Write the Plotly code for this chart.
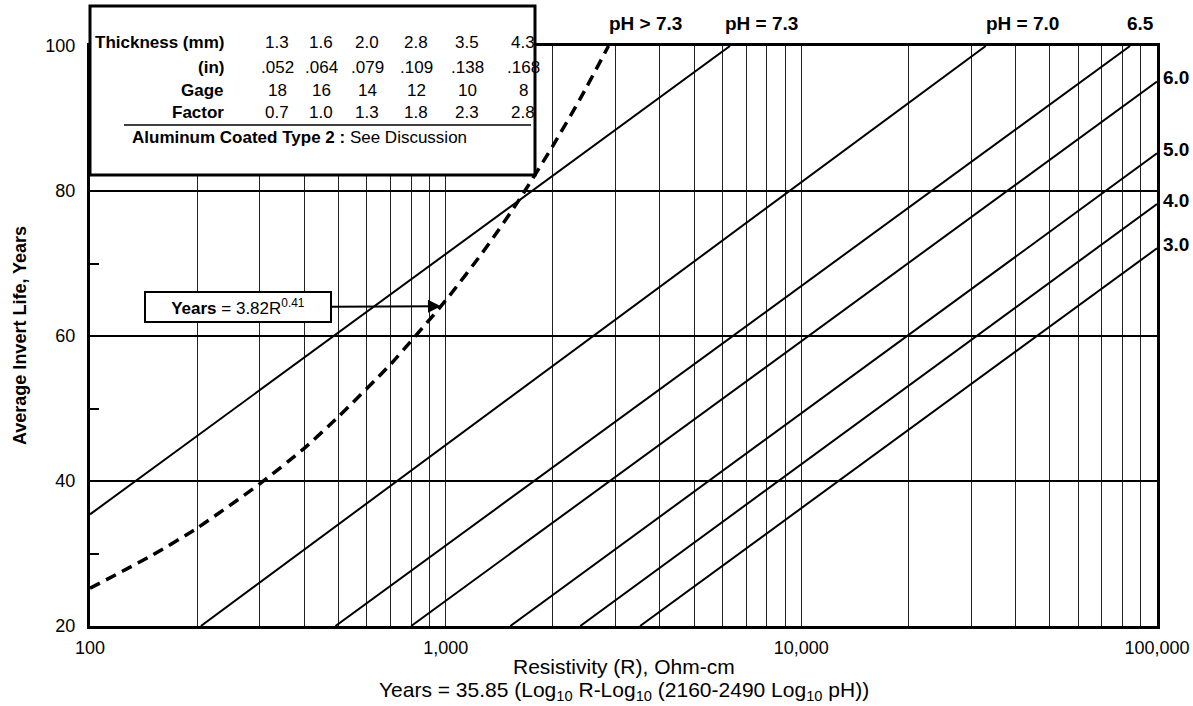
import math
import plotly.graph_objects as go

# ---------------- data ----------------
ph_values = ["7.3", "7.0", "6.5", "6.0", "5.0", "4.0", "3.0"]
line_r_start = [100, 205, 490, 800, 1520, 2390, 3520]
line_y_start = [35.4, 20, 20, 20, 20, 20, 20]
line_r_end = [6300, 33000, 84000, 100000, 100000, 100000, 100000]
line_y_end = [100, 100, 100, 95.1, 85.2, 78.2, 72.1]

# dashed curve (pH > 7.3): Years = 3.82 R^0.41
curve_r = [100, 150, 200, 300, 400, 500, 700, 1000, 1300, 1600, 2000, 2400, 2870]
curve_y = [25.2, 29.8, 33.5, 39.6, 44.5, 48.9, 56.1, 64.9, 72.2, 78.6, 86.2, 92.9, 100.0]

x_tickvals = [100, 1000, 10000, 100000]
x_ticktext = ["100", "1,000", "10,000", "100,000"]
x_minorvals = [m * d for d in (100, 1000, 10000) for m in range(2, 10)]
y_tickvals = [20, 40, 60, 80, 100]

table_labels = ["Thickness (mm)", "(in)", "Gage", "Factor"]
thickness_mm = ["1.3", "1.6", "2.0", "2.8", "3.5", "4.3"]
thickness_in = [".052", ".064", ".079", ".109", ".138", ".168"]
gage = ["18", "16", "14", "12", "10", "8"]
factor = ["0.7", "1.0", "1.3", "1.8", "2.3", "2.8"]

top_labels = ["pH > 7.3", "pH = 7.3", "pH = 7.0", "6.5"]
right_labels = ["6.0", "5.0", "4.0", "3.0"]
right_label_y = line_y_end[3:]

arrow_r, arrow_y = 970, 64.1

# ---------------- layout helpers ----------------
W, H = 1193, 706
L, R, T, B = 90, 36, 46, 80
PW, PH = W - L - R, H - T - B


def px(xp):
    return (xp - L) / PW


def py(yp):
    return (H - B - yp) / PH


FONT = "Liberation Sans, Arial, Helvetica, sans-serif"

fig = go.Figure()

for i, ph in enumerate(ph_values):
    fig.add_trace(go.Scatter(
        x=[line_r_start[i], line_r_end[i]], y=[line_y_start[i], line_y_end[i]],
        mode="lines", line=dict(color="black", width=2), name="pH " + ph,
        showlegend=False, hoverinfo="skip"))

fig.add_trace(go.Scatter(
    x=curve_r, y=curve_y, mode="lines",
    line=dict(color="black", width=3.5, dash="11px,7px", shape="spline", smoothing=0.6),
    showlegend=False, hoverinfo="skip"))

annotations = []

# table
col_x = [277, 321, 367, 416, 467, 523]
row_y = [43, 67, 90, 113]
rows = [thickness_mm, thickness_in, gage, factor]
for r, (lab, vals) in enumerate(zip(table_labels, rows)):
    annotations.append(dict(xref="paper", yref="paper", x=px(226), y=py(row_y[r]),
                            text="<b>%s</b>" % lab, showarrow=False, xanchor="right",
                            yanchor="middle", font=dict(family=FONT, size=17, color="black")))
    for c, v in enumerate(vals):
        annotations.append(dict(xref="paper", yref="paper", x=px(col_x[c]), y=py(row_y[r]),
                                text=v, showarrow=False, xanchor="center", yanchor="middle",
                                font=dict(family=FONT, size=17, color="black")))
annotations.append(dict(xref="paper", yref="paper", x=px(130), y=py(137),
                        text="<b>Aluminum Coated Type 2 :</b> See Discussion", showarrow=False,
                        xanchor="left", yanchor="middle",
                        font=dict(family=FONT, size=17, color="black")))

# top labels
top_x = [645, 761, 1022, 1140]
for t, xx in zip(top_labels, top_x):
    annotations.append(dict(xref="paper", yref="paper", x=px(xx), y=py(23), text="<b>%s</b>" % t,
                            showarrow=False, xanchor="center", yanchor="middle",
                            font=dict(family=FONT, size=19, color="black")))
# right labels
for t, yy in zip(right_labels, right_label_y):
    annotations.append(dict(xref="paper", yref="y", x=px(1161), y=yy, yshift=4, text="<b>%s</b>" % t,
                            showarrow=False, xanchor="left", yanchor="middle",
                            font=dict(family=FONT, size=19, color="black")))

# equation box with arrow
annotations.append(dict(xref="x", yref="y", x=math.log10(arrow_r), y=arrow_y,
                        text="<b>Years</b> = 3.82R<sup>0.41</sup>", showarrow=True,
                        ax=-203, ay=1, arrowhead=2, arrowsize=1.3, arrowwidth=2, arrowcolor="black",
                        bordercolor="black", borderwidth=2, borderpad=1, bgcolor="white",
                        width=182, height=26,
                        font=dict(family=FONT, size=17, color="black")))

# axis titles
annotations.append(dict(xref="paper", yref="paper", x=0.5, y=py(666),
                        text="Resistivity (R), Ohm-cm", showarrow=False, xanchor="center",
                        yanchor="middle", font=dict(family=FONT, size=21, color="black")))
annotations.append(dict(xref="paper", yref="paper", x=0.5, y=py(691),
                        text="Years = 35.85 (Log<sub>10</sub> R-Log<sub>10</sub> (2160-2490 Log<sub>10</sub> pH))",
                        showarrow=False, xanchor="center", yanchor="middle",
                        font=dict(family=FONT, size=21, color="black")))
annotations.append(dict(xref="paper", yref="paper", x=px(20), y=0.5,
                        text="<b>Average Invert Life, Years</b>", showarrow=False, textangle=-90,
                        xanchor="center", yanchor="middle",
                        font=dict(family=FONT, size=18, color="black")))

shapes = [
    dict(type="rect", xref="paper", yref="paper", x0=px(90), x1=px(535), y0=py(175), y1=py(6),
         line=dict(color="black", width=3), fillcolor="white", layer="above"),
    dict(type="line", xref="paper", yref="paper", x0=px(124), x1=px(531), y0=py(125), y1=py(125),
         line=dict(color="black", width=1.5), layer="above"),
]

fig.update_layout(
    width=W, height=H, margin=dict(l=L, r=R, t=T, b=B, autoexpand=False),
    paper_bgcolor="white", plot_bgcolor="white", showlegend=False,
    annotations=annotations, shapes=shapes,
    xaxis=dict(type="log", range=[2, 5], tickvals=x_tickvals, ticktext=x_ticktext,
               automargin=False, ticklabelstandoff=3,
               showgrid=True, gridcolor="#222", gridwidth=1, ticks="",
               showline=True, linecolor="black", linewidth=3, mirror=True, zeroline=False,
               tickfont=dict(family=FONT, size=18, color="black"),
               minor=dict(tickvals=x_minorvals, showgrid=True, gridcolor="#222", gridwidth=1, ticks="")),
    yaxis=dict(range=[20, 100], tickvals=y_tickvals, showgrid=True, gridcolor="black", gridwidth=2,
               automargin=False, ticklabelstandoff=8,
               ticks="inside", ticklen=9, tickwidth=2, tickcolor="black",
               showline=True, linecolor="black", linewidth=3, mirror=True, zeroline=False,
               tickfont=dict(family=FONT, size=18, color="black"),
               minor=dict(dtick=10, ticks="inside", ticklen=9, tickwidth=2, tickcolor="black",
                          showgrid=False)),
)

fig.write_html(
    "out.html",
    config={"displayModeBar": False},
    post_script="document.body.style.margin='0';document.body.style.overflow='hidden';",
)
